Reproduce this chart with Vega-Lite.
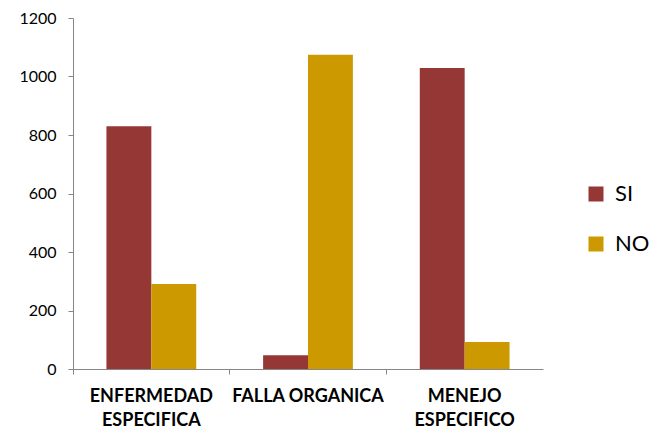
{
  "$schema": "https://vega.github.io/schema/vega-lite/v6.json",
  "autosize": "none",
  "width": 470,
  "height": 351,
  "padding": {"left": 73, "top": 18, "right": 116, "bottom": 61},
  "background": "white",
  "data": {
    "values": [
      {"categoria": "ENFERMEDAD ESPECIFICA", "grupo": "SI", "valor": 830},
      {"categoria": "ENFERMEDAD ESPECIFICA", "grupo": "NO", "valor": 291},
      {"categoria": "FALLA ORGANICA", "grupo": "SI", "valor": 47},
      {"categoria": "FALLA ORGANICA", "grupo": "NO", "valor": 1074},
      {"categoria": "MENEJO ESPECIFICO", "grupo": "SI", "valor": 1029},
      {"categoria": "MENEJO ESPECIFICO", "grupo": "NO", "valor": 92}
    ]
  },
  "config": {
    "view": {"stroke": null},
    "font": "Lato"
  },
  "mark": {"type": "bar"},
  "encoding": {
    "x": {
      "field": "categoria",
      "type": "nominal",
      "sort": null,
      "scale": {"paddingInner": 0, "paddingOuter": 0},
      "axis": {
        "title": null,
        "labelAngle": 0,
        "bandPosition": 0,
        "domainColor": "#868686",
        "tickColor": "#868686",
        "tickSize": 5,
        "labelFont": "Lato",
        "labelFontWeight": "bold",
        "labelFontSize": 18,
        "labelColor": "#000000",
        "labelPadding": 13,
        "labelLineHeight": 24,
        "labelBaseline": "top",
        "labelExpr": "datum.value == 'ENFERMEDAD ESPECIFICA' ? ['ENFERMEDAD', 'ESPECIFICA'] : datum.value == 'MENEJO ESPECIFICO' ? ['MENEJO', 'ESPECIFICO'] : datum.value"
      }
    },
    "xOffset": {
      "field": "grupo",
      "sort": ["SI", "NO"],
      "scale": {"paddingInner": 0, "paddingOuter": 0.745}
    },
    "y": {
      "field": "valor",
      "type": "quantitative",
      "scale": {"domain": [0, 1200], "nice": false},
      "axis": {
        "title": null,
        "values": [0, 200, 400, 600, 800, 1000, 1200],
        "format": "d",
        "grid": false,
        "domainColor": "#868686",
        "tickColor": "#868686",
        "tickSize": 5,
        "labelFont": "Lato",
        "labelFontSize": 16,
        "labelColor": "#000000",
        "labelPadding": 12
      }
    },
    "color": {
      "field": "grupo",
      "type": "nominal",
      "sort": ["SI", "NO"],
      "scale": {"domain": ["SI", "NO"], "range": ["#953735", "#CC9900"]},
      "legend": {
        "title": null,
        "orient": "none",
        "legendX": 512,
        "legendY": 165,
        "symbolType": "square",
        "symbolSize": 225,
        "symbolStrokeWidth": 0,
        "labelFontSize": 22,
        "labelFont": "Lato",
        "labelColor": "#000000",
        "labelOffset": 8,
        "rowPadding": 28
      }
    }
  }
}
